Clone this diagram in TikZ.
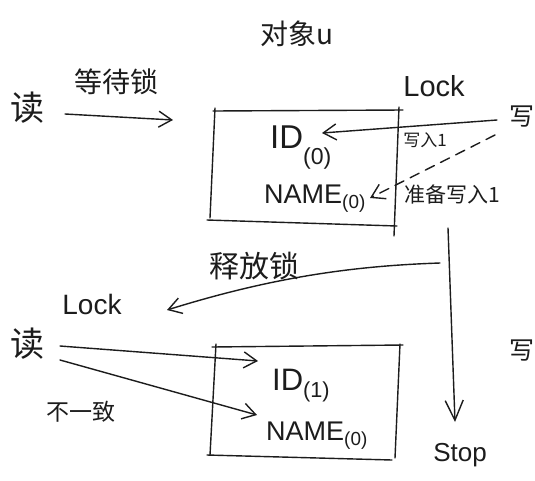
\documentclass[tikz,border=0pt]{standalone}
\usepackage{fontspec}
\setmainfont{Liberation Sans}
\newfontfamily\cjk{Noto Sans CJK SC}
\usetikzlibrary{arrows.meta}
\definecolor{ink}{HTML}{1C1C1C}
\newcommand\fieldsub[1]{\raisebox{-0.5ex}{\textsubscript{#1}}}
\tikzset{
  pen/.style={draw=ink, line width=1.4pt, line cap=round, line join=round},
  arr/.style={pen, -{Straight Barb[length=13pt,width=16pt,line width=1.4pt]}},
  bigarr/.style={pen, -{Straight Barb[length=20pt,width=18pt,line width=1.4pt]}},
  dasharr/.style={arr, dash pattern=on 10pt off 7pt},
  hz/.style={text=ink, inner sep=0pt, font=\cjk\fontsize{#1}{#1}\selectfont},
  lat/.style={text=ink, inner sep=0pt, font=\fontsize{#1}{#1}\selectfont},
}
\begin{document}
\begin{tikzpicture}[x=1pt, y=-1pt]
\useasboundingbox[fill=white] (0,0) rectangle (535,480);

% ---- labels ----
\node[hz=28] (title) at (297,34) {对象u};
\node[hz=34] (readA) at (27,108) {读};
\node[hz=28] (wait) at (116,82) {等待锁};
\node[lat=29] (lockA) at (434,86) {Lock};
\node[hz=25] (writeA) at (522,117) {写};
\node[hz=17] (wlab) at (425,140) {写入1};
\node[hz=21] (plab) at (452,194) {准备写入1};
\node[hz=30] (rel) at (254,266) {释放锁};
\node[lat=28] (lockB) at (92,304) {Lock};
\node[hz=34] (readB) at (27,344) {读};
\node[hz=23] (diff) at (81,412) {不一致};
\node[hz=25] (writeB) at (522,351) {写};
\node[lat=26] (stop) at (460,455) {Stop};

% ---- fields ----
\node[lat=33, anchor=base west] (idA) at (270,148) {ID\fieldsub{(0)}};
\node[lat=27, anchor=base west] (nameA) at (264,203) {NAME\textsubscript{(0)}};
\node[lat=31, anchor=base west] (idB) at (272,390) {ID\textsubscript{(1)}};
\node[lat=27, anchor=base west] (nameB) at (266,440) {NAME\textsubscript{(0)}};

% ---- object boxes ----
\draw[pen] (213,111) -- (403,110);
\draw[pen] (215,108) -- (210,218);
\draw[pen] (207,220) -- (397,226);
\draw[pen] (399,107) -- (394,236);

\draw[pen] (212,347) -- (403,345);
\draw[pen] (216,344) -- (210,455);
\draw[pen] (400,344) -- (395,458);
\draw[pen] (207,455) -- (392,460);

% ---- connector ends ----
\coordinate (waitS) at (65,114);
\coordinate (waitE) at (173,120);
\coordinate (wAS) at (497,120);
\coordinate (wAE) at (322,133);
\coordinate (pS) at (495,135);
\coordinate (pE) at (370,198);
\coordinate (stopS) at (448,228);
\coordinate (stopE) at (455,422);
\coordinate (relS) at (440,263);
\coordinate (relE) at (167,310);
\coordinate (rBS1) at (60,346);
\coordinate (rBE1) at (258,361);
\coordinate (rBS2) at (60,360);
\coordinate (rBE2) at (257,415);

% ---- connectors ----
\draw[arr] (waitS) -- (waitE);
\draw[arr] (wAS) -- (wAE);
\draw[dasharr] (pS) -- (pE);
\draw[bigarr] (stopS) -- (stopE);
\draw[arr] (relS) .. controls (350,266) and (270,278) .. (relE);
\draw[arr] (rBS1) -- (rBE1);
\draw[arr] (rBS2) -- (rBE2);
\end{tikzpicture}
\end{document}
